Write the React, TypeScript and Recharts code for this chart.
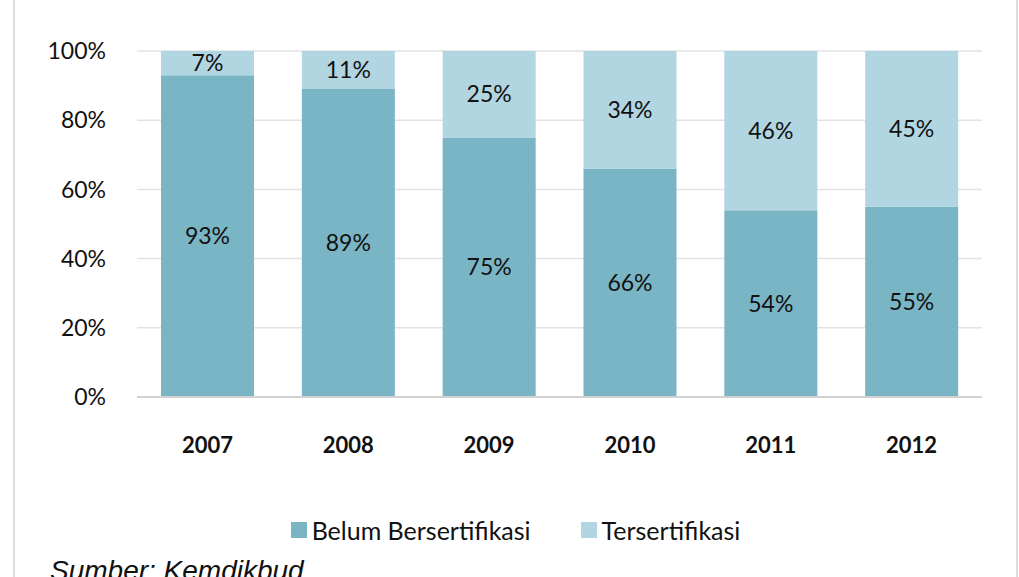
import React from "react";
import { BarChart, Bar, XAxis, YAxis, CartesianGrid, Legend, LabelList } from "recharts";

const years = ["2007", "2008", "2009", "2010", "2011", "2012"];
const belum = [93, 89, 75, 66, 54, 55];
const tersertifikasi = [7, 11, 25, 34, 46, 45];
const yTicks = [0, 20, 40, 60, 80, 100];
const seriesNames = ["Belum Bersertifikasi", "Tersertifikasi"];
const source = "Sumber: Kemdikbud";

const data = years.map((y, i) => ({ year: y, belum: belum[i], ters: tersertifikasi[i] }));

const FONT = "Lato, 'Open Sans', sans-serif";

const LegendContent = (props: any) => {
  const payload = props.payload || [];
  return (
    <div style={{ display: "flex", justifyContent: "center", alignItems: "center", height: 30, paddingLeft: 12, fontFamily: FONT, fontSize: 25, color: "#111" }}>
      {payload.map((p: any, i: number) => (
        <div key={i} style={{ display: "flex", alignItems: "center", marginRight: i === 0 ? 50 : 0 }}>
          <div style={{ width: 16, height: 16, background: p.color, marginRight: 5 }} />
          <span>{p.value}</span>
        </div>
      ))}
    </div>
  );
};

export default function App() {
  return (
    <div style={{ position: "absolute", left: 0, top: 0, width: 1019, height: 577, overflow: "hidden", background: "#fff" }}>
      <div style={{ position: "absolute", left: 13, top: -10, width: 1001, height: 610, border: "2px solid #dcdcdc" }} />
      <div style={{ position: "absolute", left: 0, top: 0 }}>
        <BarChart width={1019} height={577} data={data} margin={{ top: 51, right: 37, bottom: 32, left: 0 }} barSize={93}>
          <CartesianGrid vertical={false} stroke="#e2e2e2" strokeWidth={1.5} />
          <XAxis
            dataKey="year"
            height={118}
            tickLine={false}
            tickSize={6}
            tickMargin={34}
            axisLine={{ stroke: "#d2d2d2", strokeWidth: 2 }}
            tick={{ fill: "#111", fontFamily: FONT, fontSize: 22, fontWeight: 700 }}
          />
          <YAxis
            width={137}
            domain={[0, 100]}
            ticks={yTicks}
            tickFormatter={(v: number) => v + "%"}
            tickLine={false}
            axisLine={false}
            tickSize={6}
            tickMargin={25}
            tick={{ fill: "#111", fontFamily: FONT, fontSize: 23 }}
          />
          <Legend verticalAlign="bottom" height={30} wrapperStyle={{ left: 0, width: 1019 }} content={<LegendContent />} />
          <Bar dataKey="belum" name={seriesNames[0]} stackId="a" fill="#7AB5C5" isAnimationActive={false}>
            <LabelList dataKey="belum" position="center" formatter={(v: any) => v + "%"} fill="#111" fontFamily={FONT} fontSize={23} />
          </Bar>
          <Bar dataKey="ters" name={seriesNames[1]} stackId="a" fill="#B1D5E1" isAnimationActive={false}>
            <LabelList dataKey="ters" position="center" formatter={(v: any) => v + "%"} fill="#111" fontFamily={FONT} fontSize={23} />
          </Bar>
        </BarChart>
      </div>
      <div style={{ position: "absolute", left: 50, top: 555, fontFamily: "'Liberation Sans', Arial, sans-serif", fontStyle: "italic", fontSize: 28, color: "#111", whiteSpace: "nowrap" }}>
        {source}
      </div>
    </div>
  );
}
